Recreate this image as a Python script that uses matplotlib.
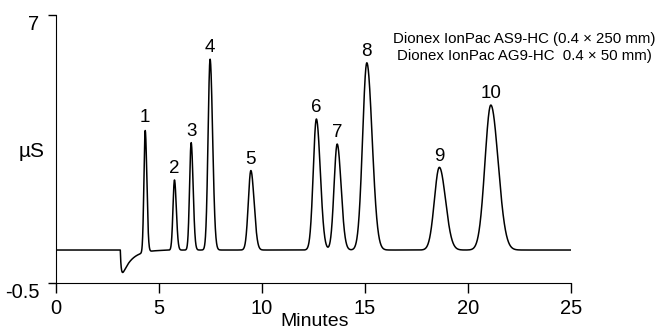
import matplotlib.pyplot as plt
import numpy as np

# peak table (minutes, µS at apex, gaussian sigma)
retention = [4.33, 5.75, 6.56, 7.48, 9.46, 12.64, 13.65, 15.09, 18.61, 21.11]
apex = [3.83, 2.39, 3.43, 5.76, 2.65, 4.09, 3.39, 5.66, 2.74, 4.48]
sigma = [0.07, 0.08, 0.085, 0.11, 0.14, 0.17, 0.17, 0.23, 0.27, 0.32]
peak_labels = ['1', '2', '3', '4', '5', '6', '7', '8', '9', '10']
baseline = 0.43
dip_start = 3.12     # injection (water) dip
dip_depth = 0.9

column_text = 'Dionex IonPac AS9-HC (0.4 \u00d7 250 mm)\nDionex IonPac AG9-HC  0.4 \u00d7 50 mm)'

font = ['Liberation Sans', 'DejaVu Sans']

t = np.linspace(0, 25, 5001)
y = np.full_like(t, baseline)
tail = 1.25
for rt, h, s in zip(retention, apex, sigma):
    sl = 2 * s / (1 + tail)
    sr = sl * tail
    sd = np.where(t < rt, sl, sr)
    y += (h - baseline) * np.exp(-0.5 * ((t - rt) / sd) ** 2)
u = np.clip(t - dip_start, 0, None)
y -= dip_depth * (1 - np.exp(-u / 0.05)) * np.exp(-u / 0.45)

fig = plt.figure(figsize=(6.67, 3.3), dpi=100)
ax = fig.add_axes([0.084, 0.1415, 0.772, 0.8135])
ax.plot(t, y, color='black', lw=1.1)
ax.set_xlim(0, 25)
ax.set_ylim(-0.5, 7)
for side in ['top', 'right']:
    ax.spines[side].set_visible(False)
ax.set_xticks([0, 5, 10, 15, 20, 25])
ax.set_yticks([-0.5, 7])
ax.set_yticklabels(['-0.5', '7'], va='top')
ax.tick_params(axis='x', direction='out', length=7, width=1, pad=4)
ax.tick_params(axis='y', direction='out', length=6, width=1, pad=6)
for lab in ax.get_xticklabels() + ax.get_yticklabels():
    lab.set_family(font)
    lab.set_fontsize(14.5)

for rt, h, lab in zip(retention, apex, peak_labels):
    ax.annotate(lab, xy=(rt, h), xytext=(0, 2), textcoords='offset points',
                ha='center', va='bottom', fontsize=13.5, family=font)

fig.text(0.786, 0.856, column_text, ha='center', va='center', fontsize=10.8,
         family=font, linespacing=1.2)
fig.text(0.048, 0.54, '\u00b5S', ha='center', va='center', fontsize=15, family=font)
fig.text(0.472, 0.027, 'Minutes', ha='center', va='center', fontsize=14, family=font)

fig.savefig('out.png', dpi=100)
